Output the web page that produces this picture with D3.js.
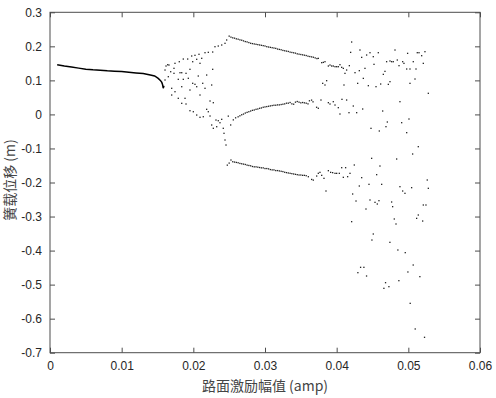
<!doctype html>
<html lang="zh">
<head>
<meta charset="utf-8">
<script src="https://d3js.org/d3.v7.min.js"></script>
<style>
  body { margin: 0; background: #fff; }
  svg { display: block; }
  .tick text { font-family: "Liberation Sans", Arial, sans-serif; font-size: 12px; fill: #262626; }
  .lab { font-family: "Noto Sans CJK SC", "Liberation Sans", sans-serif; font-size: 14px; fill: #444; }
</style>
</head>
<body>
<svg id="chart" width="496" height="398"></svg>
<script>
// tick values
var xTicks = [0, 0.01, 0.02, 0.03, 0.04, 0.05, 0.06];
var yTicks = [-0.7, -0.6, -0.5, -0.4, -0.3, -0.2, -0.1, 0, 0.1, 0.2, 0.3];

// single stable branch (solid line)
var lineX = [0.001, 0.002, 0.003, 0.004, 0.005, 0.006, 0.007, 0.008, 0.009, 0.010, 0.011, 0.012, 0.013, 0.014, 0.0146, 0.0151, 0.0154, 0.0156, 0.0157, 0.0158, 0.0159];
var lineY = [0.146, 0.142, 0.139, 0.136, 0.133, 0.131, 0.130, 0.128, 0.127, 0.126, 0.124, 0.122, 0.120, 0.116, 0.113, 0.106, 0.100, 0.094, 0.088, 0.077, 0.084];

// period-doubling cloud 0.016 - 0.0245
var cloudX = [0.01605, 0.01619, 0.01642, 0.01660, 0.01744, 0.01804, 0.01860, 0.01921, 0.01977, 0.02023, 0.02079, 0.02163, 0.02209, 0.02270, 0.02302, 0.02348, 0.02396, 0.02442, 0.02465,
  0.02117, 0.01991, 0.02047, 0.01814, 0.01730, 0.01684, 0.01953, 0.02093, 0.02270, 0.01651, 0.01605, 0.01730, 0.01838, 0.01898, 0.01790, 0.01860, 0.01930, 0.02069,
  0.01991, 0.02023, 0.02131, 0.02186, 0.02256, 0.02163, 0.01698, 0.01744, 0.01838, 0.01953, 0.02047, 0.02093, 0.01884, 0.01790, 0.01698, 0.01838, 0.01898, 0.02233, 0.02279,
  0.01953, 0.02000, 0.02047, 0.02093, 0.02139, 0.02186, 0.02209, 0.02233, 0.02256, 0.02279, 0.02316, 0.02348, 0.02372, 0.02396, 0.02326, 0.02418, 0.02428, 0.02442, 0.02456];
var cloudY = [0.1304, 0.1422, 0.1460, 0.1451, 0.1501, 0.1548, 0.1627, 0.1627, 0.1716, 0.1736, 0.1766, 0.1813, 0.1824, 0.1833, 0.1989, 0.2009, 0.2039, 0.2089, 0.2186,
  0.1648, 0.1548, 0.1619, 0.1225, 0.1354, 0.1254, 0.1325, 0.1501, 0.1325, 0.1108, 0.1011, 0.1207, 0.1225, 0.1207, 0.1031, 0.1031, 0.1061, 0.1128,
  0.0914, 0.0884, 0.0914, 0.1157, 0.0864, 0.0767, 0.0767, 0.0667, 0.0814, 0.0717, 0.0814, 0.0570, 0.0473, 0.0473, 0.0570, 0.0326, 0.0306, 0.0394, 0.0344,
  0.0109, 0.0079, -0.0018, -0.0085, -0.0068, 0.0150, 0.0079, -0.0047, -0.0311, -0.0408, -0.0165, -0.0185, -0.0244, -0.0144, -0.0361, -0.0408, -0.0555, -0.0752, -0.0899];

// upper period-3 branch
var upperX = [0.02500, 0.02525, 0.02550, 0.02575, 0.02600, 0.02625, 0.02650, 0.02675, 0.02700, 0.02725, 0.02750, 0.02775, 0.02800, 0.02825, 0.02850, 0.02875, 0.02900, 0.02925, 0.02950, 0.02975,
  0.03000, 0.03025, 0.03050, 0.03075, 0.03100, 0.03125, 0.03150, 0.03175, 0.03200, 0.03225, 0.03250, 0.03275, 0.03300, 0.03325, 0.03350, 0.03375, 0.03400, 0.03425, 0.03450, 0.03475,
  0.03500, 0.03525, 0.03550, 0.03575, 0.03600, 0.03625, 0.03650, 0.03675, 0.03700, 0.03725];
var upperY = [0.230, 0.227, 0.225, 0.224, 0.222, 0.221, 0.219, 0.218, 0.216, 0.214, 0.213, 0.211, 0.209, 0.208, 0.207, 0.206, 0.205, 0.204, 0.203, 0.202,
  0.201, 0.199, 0.198, 0.197, 0.196, 0.195, 0.194, 0.192, 0.191, 0.190, 0.188, 0.187, 0.186, 0.185, 0.183, 0.182, 0.181, 0.180, 0.178, 0.177,
  0.176, 0.175, 0.174, 0.173, 0.171, 0.170, 0.169, 0.168, 0.166, 0.164];

// middle branch
var middleX = [0.02488, 0.02521, 0.02558, 0.02590, 0.02625, 0.02650, 0.02675, 0.02700, 0.02725, 0.02750, 0.02775, 0.02800, 0.02825, 0.02850, 0.02875, 0.02900, 0.02925, 0.02950, 0.02975,
  0.03000, 0.03025, 0.03050, 0.03075, 0.03100, 0.03125, 0.03150, 0.03175, 0.03200, 0.03225, 0.03250, 0.03275, 0.03300, 0.03325, 0.03350, 0.03375, 0.03400, 0.03425, 0.03450, 0.03475,
  0.03500, 0.03525, 0.03550, 0.03575, 0.03600, 0.03620, 0.03650, 0.03670, 0.03720, 0.03744];
var middleY = [-0.005, -0.031, -0.016, -0.010, -0.007, -0.004, -0.001, 0.001, 0.004, 0.006, 0.008, 0.010, 0.012, 0.013, 0.015, 0.016, 0.018, 0.019, 0.021,
  0.022, 0.023, 0.024, 0.025, 0.026, 0.027, 0.027, 0.028, 0.028, 0.029, 0.030, 0.031, 0.033, 0.033, 0.035, 0.031, 0.030, 0.036, 0.038, 0.036,
  0.034, 0.035, 0.034, 0.033, 0.031, 0.040, 0.042, 0.037, 0.021, 0.018];

// lower branch
var lowerX = [0.02474, 0.02500, 0.02525, 0.02550, 0.02575, 0.02600, 0.02625, 0.02650, 0.02675, 0.02700, 0.02725, 0.02750, 0.02775, 0.02800, 0.02825, 0.02850, 0.02875, 0.02900, 0.02925, 0.02950,
  0.02975, 0.03000, 0.03025, 0.03050, 0.03075, 0.03100, 0.03125, 0.03150, 0.03175, 0.03200, 0.03225, 0.03250, 0.03275, 0.03300, 0.03325, 0.03350, 0.03375, 0.03400, 0.03425, 0.03450,
  0.03475, 0.03500, 0.03525, 0.03550, 0.03575, 0.03605, 0.03651, 0.03674, 0.03721, 0.03744];
var lowerY = [-0.149, -0.143, -0.134, -0.139, -0.140, -0.141, -0.142, -0.144, -0.145, -0.146, -0.147, -0.149, -0.150, -0.151, -0.153, -0.154, -0.154, -0.155, -0.156, -0.157,
  -0.157, -0.159, -0.159, -0.160, -0.162, -0.163, -0.163, -0.165, -0.165, -0.166, -0.167, -0.168, -0.170, -0.171, -0.172, -0.173, -0.174, -0.175, -0.176, -0.177,
  -0.178, -0.178, -0.179, -0.179, -0.180, -0.183, -0.191, -0.193, -0.181, -0.173];

// chaotic region 0.0375 - 0.053
var chaosX = [0.03744, 0.03791, 0.03814, 0.03837, 0.03884, 0.03907, 0.03930, 0.03953, 0.03977, 0.04000, 0.04023, 0.04046, 0.04070, 0.04093, 0.04116, 0.04139, 0.04177, 0.04195, 0.04209,
  0.04256, 0.04293, 0.04316, 0.04325, 0.04349, 0.04372, 0.04395, 0.04418, 0.04442, 0.04465, 0.04511, 0.04521, 0.04549, 0.04581, 0.04614, 0.04651, 0.04674, 0.04697, 0.04721,
  0.04744, 0.04744, 0.04767, 0.04790, 0.04814, 0.04846, 0.04870, 0.04921, 0.04939, 0.04977, 0.04990, 0.05023, 0.05023, 0.05069, 0.05093, 0.05107, 0.05125, 0.05149,
  0.05186, 0.05232, 0.05209, 0.05279,
  0.03781, 0.03884, 0.03907, 0.03953, 0.03977, 0.04023, 0.04046, 0.04074, 0.04139, 0.04172, 0.04232, 0.04279, 0.04363, 0.04479, 0.04595, 0.04642, 0.04688, 0.04707, 0.04883,
  0.04907, 0.04977, 0.05009, 0.03805, 0.03837, 0.03860, 0.04102,
  0.03767, 0.03791, 0.03823, 0.03851, 0.03884, 0.03916, 0.03944, 0.03977, 0.04000, 0.04037, 0.04070, 0.04093, 0.04125, 0.04153, 0.04186, 0.04209, 0.04223, 0.04246, 0.04270,
  0.04316, 0.04349, 0.04409, 0.04451, 0.04465, 0.04488, 0.04511, 0.04535, 0.04558, 0.04567, 0.04590, 0.04604, 0.04628, 0.04767, 0.04781, 0.04804, 0.04828, 0.04837, 0.04883,
  0.04921, 0.04953, 0.05046, 0.05060, 0.05139, 0.05116, 0.05139, 0.05264, 0.05279, 0.05200, 0.05209, 0.05246,
  0.04492, 0.04334, 0.04380, 0.04296, 0.04417, 0.04743, 0.04854, 0.04868, 0.04957, 0.04994, 0.05026, 0.05068, 0.05096, 0.05161, 0.05226, 0.04659, 0.04682, 0.04729];
var chaosY = [0.1647, 0.1520, 0.1529, 0.1549, 0.1422, 0.1451, 0.1422, 0.1422, 0.1402, 0.1402, 0.1402, 0.1461, 0.1383, 0.1353, 0.1206, 0.1304, 0.1432, 0.1823, 0.2127,
  0.1226, 0.0913, 0.1285, 0.1892, 0.1676, 0.1059, 0.1353, 0.1745, 0.0844, 0.1813, 0.1696, 0.1471, 0.0815, 0.1813, 0.0893, 0.1177, 0.1265, 0.1549, 0.0883,
  0.1569, 0.0962, 0.1549, 0.1549, 0.1892, 0.1598, 0.1432, 0.1549, 0.1500, 0.1334, 0.1794, 0.1334, 0.0913, 0.1549, 0.1040, 0.1334, 0.1813, 0.1813,
  0.1725, 0.1843, 0.1500, 0.0620,
  0.0423, 0.0345, 0.0306, 0.0374, 0.0276, 0.0198, 0.0012, 0.0443, 0.0423, 0.0051, 0.0247, 0.0051, 0.0159, -0.0409, -0.0487, 0.0100, -0.0360, -0.0223, 0.0374,
  -0.0243, -0.0536, -0.0135, 0.0913, 0.0864, 0.0991, 0.0864,
  -0.1702, -0.1790, -0.1878, -0.2250, -0.1653, -0.1702, -0.1711, -0.1731, -0.1731, -0.1731, -0.1565, -0.1848, -0.1565, -0.1829, -0.1731, -0.3151, -0.2338, -0.1486, -0.2544,
  -0.2103, -0.1858, -0.2779, -0.2054, -0.2514, -0.1290, -0.3513, -0.2583, -0.1770, -0.2632, -0.2534, -0.1516, -0.2054, -0.2573, -0.2710, -0.3072, -0.3219, -0.1310, -0.2123,
  -0.2250, -0.2318, -0.2152, -0.1163, -0.0948, -0.3053, -0.2955, -0.1927, -0.2171, -0.3132, -0.2661, -0.2661,
  -0.3690, -0.4492, -0.4492, -0.4649, -0.4747, -0.3758, -0.3983, -0.4884, -0.4061, -0.4629, -0.5550, -0.4424, -0.6303, -0.4766, -0.6548, -0.5109, -0.4943, -0.5060];

var svg = d3.select("#chart");
var mLeft = 50, mRight = 480, mTop = 12.3, mBottom = 352.7;
var x = d3.scaleLinear().domain([0, 0.06]).range([mLeft, mRight]);
var y = d3.scaleLinear().domain([-0.7, 0.3]).range([mBottom, mTop]);
var fmt = function(d) { return d === 0 ? "0" : String(+d.toFixed(2)); };
var axisCol = "#4d4d4d";

function styleAxis(g) {
  g.attr("font-family", "Liberation Sans, Arial, sans-serif").attr("font-size", 12);
  g.select(".domain").remove();
  g.selectAll(".tick line").attr("stroke", axisCol);
}
svg.append("g").attr("transform", "translate(0," + mBottom + ")")
  .call(d3.axisBottom(x).tickValues(xTicks).tickFormat(fmt).tickSizeInner(-5).tickSizeOuter(0).tickPadding(9))
  .call(styleAxis);
svg.append("g").attr("transform", "translate(" + mLeft + ",0)")
  .call(d3.axisLeft(y).tickValues(yTicks).tickFormat(fmt).tickSizeInner(-5).tickSizeOuter(0).tickPadding(8))
  .call(styleAxis);
svg.append("g").attr("transform", "translate(0," + mTop + ")")
  .call(d3.axisTop(x).tickValues(xTicks).tickFormat("").tickSizeInner(-5).tickSizeOuter(0))
  .call(styleAxis);
svg.append("g").attr("transform", "translate(" + mRight + ",0)")
  .call(d3.axisRight(y).tickValues(yTicks).tickFormat("").tickSizeInner(-5).tickSizeOuter(0))
  .call(styleAxis);
svg.append("rect").attr("x", mLeft).attr("y", mTop).attr("width", mRight - mLeft).attr("height", mBottom - mTop)
  .attr("fill", "none").attr("stroke", axisCol).attr("stroke-width", 1);

// solid branch
var pts = lineX.map(function(d, i) { return [d, lineY[i]]; });
svg.append("path").datum(pts)
  .attr("d", d3.line().x(function(d) { return x(d[0]); }).y(function(d) { return y(d[1]); }))
  .attr("fill", "none").attr("stroke", "#000").attr("stroke-width", 1.5);

// dots
var groups = [[cloudX, cloudY], [upperX, upperY], [middleX, middleY], [lowerX, lowerY], [chaosX, chaosY]];
var dots = svg.append("g");
groups.forEach(function(g) {
  var data = g[0].map(function(d, i) { return [d, g[1][i]]; });
  dots.selectAll(null).data(data).enter().append("rect")
    .attr("x", function(d) { return x(d[0]) - 0.65; })
    .attr("y", function(d) { return y(d[1]) - 0.65; })
    .attr("width", 1.3).attr("height", 1.3)
    .attr("fill", "#222");
});

// labels
svg.append("text").attr("class", "lab").attr("text-anchor", "middle")
  .attr("x", (mLeft + mRight) / 2).attr("y", 391).text("路面激励幅值 (amp)");
svg.append("text").attr("class", "lab").attr("text-anchor", "middle")
  .attr("transform", "translate(15," + 180 + ") rotate(-90)").text("簧载位移 (m)");
</script>
</body>
</html>
